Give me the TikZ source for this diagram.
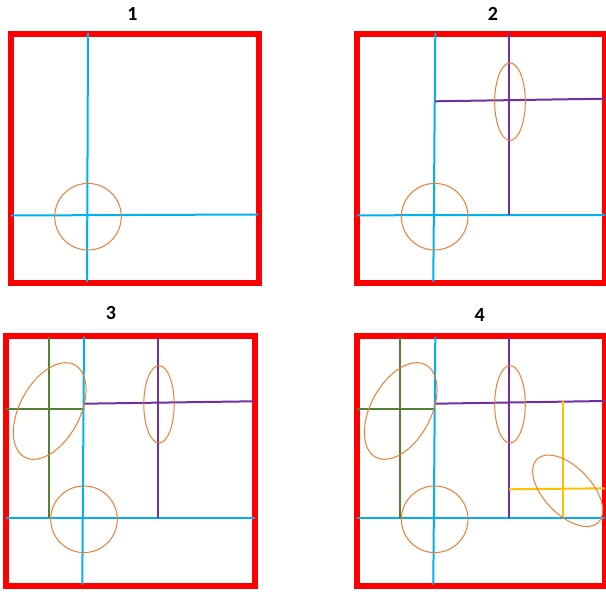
\documentclass[tikz,border=0pt]{standalone}
\usepackage{fontspec}
\setmainfont{Carlito}
\definecolor{framered}{HTML}{FF0000}
\definecolor{lblue}{HTML}{00B0F0}
\definecolor{lpurple}{HTML}{7030A0}
\definecolor{lgreen}{HTML}{548235}
\definecolor{lgold}{HTML}{FFC000}
\definecolor{lorange}{HTML}{ED7D31}
\begin{document}
\begin{tikzpicture}[x=1pt,y=1pt,
  framebox/.style={draw=framered,line width=6pt},
  blueline/.style={draw=lblue,line width=2pt},
  purpleline/.style={draw=lpurple,line width=2pt},
  greenline/.style={draw=lgreen,line width=2pt},
  goldline/.style={draw=lgold,line width=2pt},
  oval/.style={draw=lorange,line width=1pt},
  paneltitle/.style={font=\bfseries\fontsize{20}{24}\selectfont,inner sep=0pt}]
\useasboundingbox (0,0) rectangle (606,592);
% ---------- panel 1 ----------
\node[paneltitle] (t1) at (132.5,578) {1};
\draw[framebox] (11,558) rectangle (259,309);
\draw[blueline] (88,559) -- (87,310);
\draw[blueline] (11,376.5) -- (258,377.5);
\draw[oval] (88,375.3) circle (33.3);
% ---------- panel 2 ----------
\node[paneltitle] (t2) at (493,578) {2};
\draw[framebox] (357,558) rectangle (605,309);
\draw[blueline] (435.3,559) -- (433.3,310);
\draw[blueline] (357,376.7) -- (605,377);
\draw[purpleline] (509,559) -- (509,376.7);
\draw[purpleline] (435,490.7) -- (605,493.3);
\draw[oval] (434.7,375.3) circle (33.3);
\draw[oval] (510,490.3) ellipse (15.3 and 38.7);
% ---------- panel 3 ----------
\node[paneltitle] (t3) at (111,279) {3};
\draw[framebox] (6,255.7) rectangle (255,6);
\draw[blueline] (84,255.3) -- (82.3,7.3);
\draw[blueline] (6,74) -- (255,74);
\draw[purpleline] (158.3,255.3) -- (158.3,74);
\draw[purpleline] (84,188.3) -- (254,190.7);
\draw[greenline] (49.3,255.3) -- (49.3,74);
\draw[greenline] (6,182.7) -- (83.3,182.7);
\draw[oval] (84,72.7) circle (33.3);
\draw[oval] (159,187.7) ellipse (15.2 and 38.7);
\draw[oval,rotate around={61.5:(49.7,181)}] (49.7,181) ellipse (52.5 and 30);
% ---------- panel 4 ----------
\node[paneltitle] (t4) at (479.7,277) {4};
\draw[framebox] (357,255.7) rectangle (605,6);
\draw[blueline] (435.3,255.3) -- (433.3,7.3);
\draw[blueline] (357,74) -- (605,74);
\draw[purpleline] (509,255.3) -- (509,74);
\draw[purpleline] (435,188.3) -- (605,191);
\draw[greenline] (400.3,255.3) -- (400.3,74);
\draw[greenline] (357,182.7) -- (434,182.7);
\draw[goldline] (563.3,190.7) -- (563.3,74);
\draw[goldline] (509,102.7) -- (605,103.7);
\draw[oval] (434.7,72.7) circle (33.3);
\draw[oval] (510,187.7) ellipse (15.3 and 38.7);
\draw[oval,rotate around={61.5:(400.7,181)}] (400.7,181) ellipse (52.5 and 30);
\draw[oval,rotate around={-46:(567.7,101.2)}] (567.7,101.2) ellipse (44.1 and 23.7);
\end{tikzpicture}
\end{document}
